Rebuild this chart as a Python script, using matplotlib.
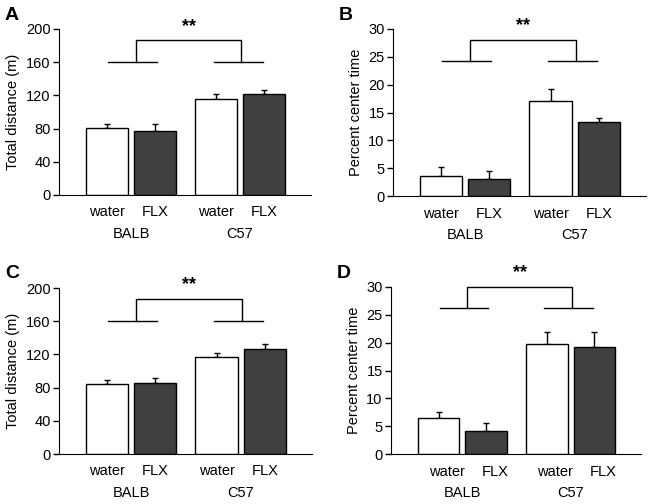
import numpy as np
import matplotlib
matplotlib.use("Agg")
import matplotlib.pyplot as plt

plt.rcParams['font.family'] = ['Liberation Sans', 'DejaVu Sans']

# data
treat = ["water", "FLX", "water", "FLX"]
strains = ["BALB", "C57"]
dist_top = [81, 77, 116, 122]
dist_top_err = [5, 8, 6, 4]
center_top = [3.6, 3.1, 17.1, 13.3]
center_top_err = [1.6, 1.4, 2.1, 0.8]
dist_bot = [84, 85, 117, 127]
dist_bot_err = [5, 6, 5, 6]
center_bot = [6.4, 4.2, 19.8, 19.3]
center_bot_err = [1.1, 1.3, 2.2, 2.6]

pos = np.array([0, 1, 2.27, 3.27])
W, H = 652, 504

def panel(rect, vals, errs, ymax, ystep, ylabel, letter, line_y, top_y, star_y, lab_shift=0.0):
    l, r, b, t = rect
    ax = fig.add_axes([l / W, 1 - b / H, (r - l) / W, (b - t) / H])
    ax.bar(pos, vals, width=0.875, color=["white", "#404040", "white", "#404040"],
           edgecolor="black", linewidth=1.0, zorder=2)
    ax.errorbar(pos, vals, yerr=[[0] * 4, errs], fmt="none", ecolor="black",
                elinewidth=1.0, capsize=2.5, capthick=1.0, zorder=1)
    ax.set_xlim(-1.0, 4.25)
    ax.set_ylim(0, ymax)
    ax.set_yticks(np.arange(0, ymax + ystep / 2, ystep))
    ax.set_xticks([])
    ax.spines[['top', 'right']].set_visible(False)
    ax.tick_params(axis='y', length=4, width=1, labelsize=10.5, pad=2)
    ax.set_ylabel(ylabel, fontsize=10.5, labelpad=4)
    xt = ax.get_xaxis_transform()
    for p, s in zip(pos, treat):
        ax.text(p + lab_shift, -0.105, s, transform=xt, ha='center', va='center', fontsize=10.5)
    for g, s in zip([pos[0] + 0.5, pos[2] + 0.5], strains):
        ax.text(g, -0.235, s, transform=xt, ha='center', va='center', fontsize=10.5)
    # significance bracket
    kw = dict(color="black", linewidth=1.0, clip_on=False)
    ax.plot([pos[0] + 0.02, pos[1] + 0.04], [line_y, line_y], **kw)
    ax.plot([pos[2] - 0.05, pos[3] - 0.03], [line_y, line_y], **kw)
    ax.plot([0.6, 0.6, 2.8, 2.8], [line_y, top_y, top_y, line_y], **kw)
    ax.text(1.7, star_y, "**", ha='center', va='center', fontsize=13, fontweight='bold')
    fig.text((l - 54) / W, 1 - (t - 14) / H, letter, fontsize=14, fontweight='bold',
             ha='left', va='center')
    return ax

fig = plt.figure(figsize=(6.52, 5.04), dpi=100)
panel((59, 311, 195, 29), dist_top, dist_top_err, 200, 40, "Total distance (m)", "A", 160, 187, 203)
panel((393, 646, 196, 29), center_top, center_top_err, 30, 5, "Percent center time", "B", 24.2, 28, 30.6)
panel((59, 312, 454, 288), dist_bot, dist_bot_err, 200, 40, "Total distance (m)", "C", 160, 187, 204)
panel((391, 641, 454, 287), center_bot, center_bot_err, 30, 5, "Percent center time", "D", 26.2, 30, 32.6,
      lab_shift=0.18)

fig.savefig("out.png", dpi=100)
